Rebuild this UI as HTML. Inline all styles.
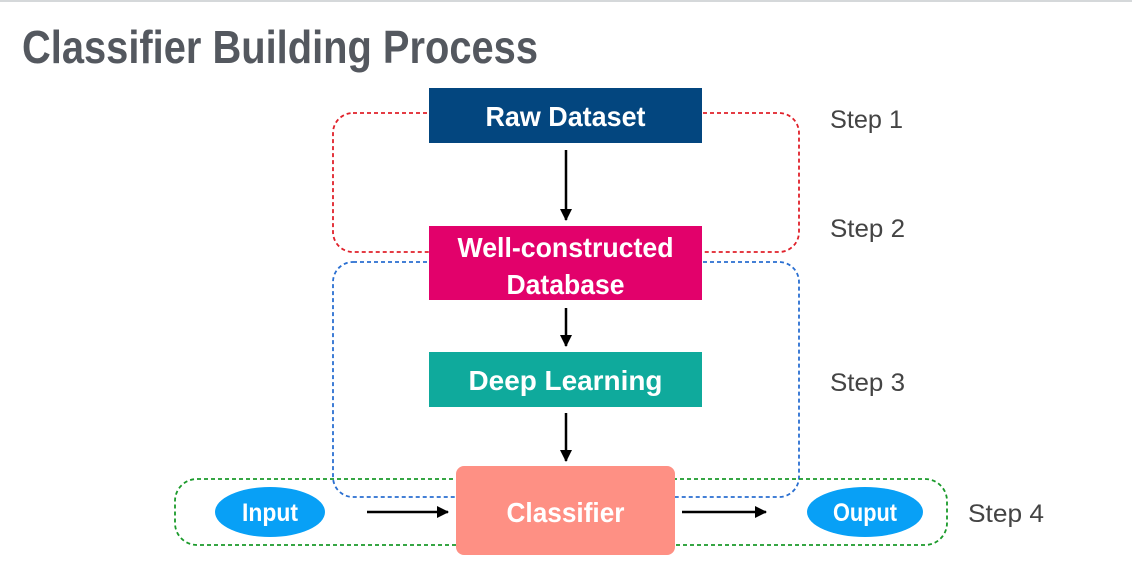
<!DOCTYPE html>
<html><head><meta charset="utf-8"><style>
html,body{margin:0;padding:0;background:#fff;}
svg{display:block;}
text{font-family:"Liberation Sans",sans-serif;}
</style></head><body>
<svg width="1132" height="563" viewBox="0 0 1132 563" xmlns="http://www.w3.org/2000/svg">
<defs>
<marker id="ah" markerWidth="12" markerHeight="12" refX="11" refY="6" orient="auto" markerUnits="userSpaceOnUse">
<path d="M0,0 L12,6 L0,12 z" fill="#000"/>
</marker>
</defs>
<rect x="0" y="0" width="1132" height="2" fill="#d5d8da"/>
<text x="22" y="63" font-size="46" font-weight="bold" fill="#54585f" textLength="516" lengthAdjust="spacingAndGlyphs">Classifier Building Process</text>

<rect x="333" y="113" width="466" height="139" rx="20" fill="none" stroke="#e0202a" stroke-width="1.8" stroke-dasharray="4,3"/>
<rect x="333" y="262" width="466" height="235" rx="20" fill="none" stroke="#2a6fd1" stroke-width="1.8" stroke-dasharray="4,3"/>
<rect x="175" y="479" width="772" height="66" rx="22" fill="none" stroke="#1a9a2a" stroke-width="1.8" stroke-dasharray="4,3"/>

<rect x="429" y="88" width="273" height="55" fill="#03467f"/>
<text x="565.5" y="126" font-size="28" font-weight="bold" fill="#fff" text-anchor="middle" textLength="160" lengthAdjust="spacingAndGlyphs">Raw Dataset</text>

<rect x="429" y="226" width="273" height="74" fill="#e2016b"/>
<text x="565.5" y="257" font-size="28" font-weight="bold" fill="#fff" text-anchor="middle" textLength="216" lengthAdjust="spacingAndGlyphs">Well-constructed</text>
<text x="565.5" y="294" font-size="28" font-weight="bold" fill="#fff" text-anchor="middle" textLength="118" lengthAdjust="spacingAndGlyphs">Database</text>

<rect x="429" y="352" width="273" height="55" fill="#0faa9c"/>
<text x="565.5" y="390" font-size="28" font-weight="bold" fill="#fff" text-anchor="middle" textLength="194" lengthAdjust="spacingAndGlyphs">Deep Learning</text>

<rect x="456" y="466" width="219" height="89" rx="8" fill="#fe9084"/>
<text x="565.5" y="522" font-size="28" font-weight="bold" fill="#fff" text-anchor="middle" textLength="118" lengthAdjust="spacingAndGlyphs">Classifier</text>

<ellipse cx="270" cy="512" rx="55" ry="25" fill="#08a0f6"/>
<text x="270" y="521" font-size="25" font-weight="bold" fill="#fff" text-anchor="middle" textLength="56" lengthAdjust="spacingAndGlyphs">Input</text>
<ellipse cx="865" cy="512" rx="58" ry="25" fill="#08a0f6"/>
<text x="865" y="521" font-size="25" font-weight="bold" fill="#fff" text-anchor="middle" textLength="64" lengthAdjust="spacingAndGlyphs">Ouput</text>

<g stroke="#000" stroke-width="2.5" fill="none">
<line x1="566" y1="150" x2="566" y2="220" marker-end="url(#ah)"/>
<line x1="566" y1="308" x2="566" y2="346" marker-end="url(#ah)"/>
<line x1="566" y1="413" x2="566" y2="461" marker-end="url(#ah)"/>
<line x1="367" y1="512" x2="448" y2="512" marker-end="url(#ah)"/>
<line x1="682" y1="512" x2="766" y2="512" marker-end="url(#ah)"/>
</g>

<g font-size="25" fill="#444">
<text x="830" y="128" textLength="73" lengthAdjust="spacingAndGlyphs">Step 1</text>
<text x="830" y="237" textLength="75" lengthAdjust="spacingAndGlyphs">Step 2</text>
<text x="830" y="391" textLength="75" lengthAdjust="spacingAndGlyphs">Step 3</text>
<text x="968" y="522" textLength="76" lengthAdjust="spacingAndGlyphs">Step 4</text>
</g>
</svg>
</body></html>
